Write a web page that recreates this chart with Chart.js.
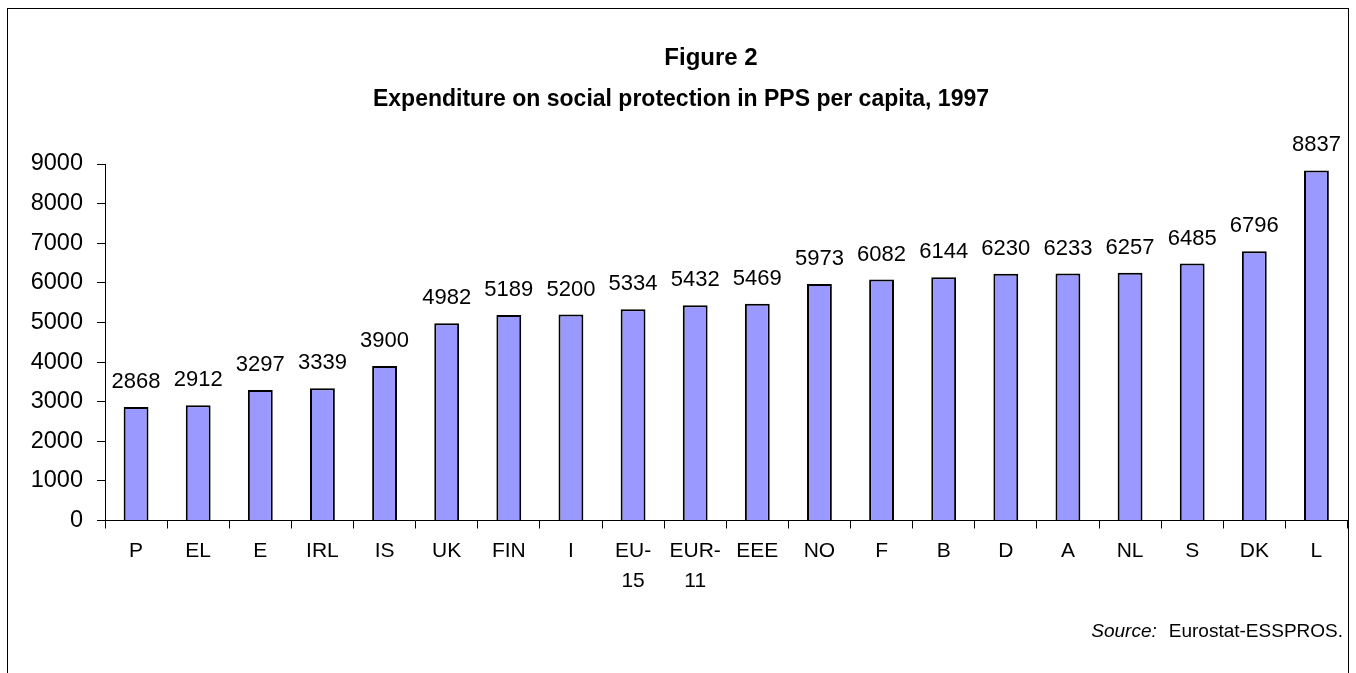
<!DOCTYPE html>
<html>
<head>
<meta charset="utf-8">
<script src="https://cdn.jsdelivr.net/npm/chart.js@4.4.1/dist/chart.umd.min.js"></script>
<style>
html,body{margin:0;padding:0;background:#fff;overflow:hidden}
#wrap{position:relative;width:1356px;height:673px}
canvas{display:block}
</style>
</head>
<body>
<div id="wrap"><canvas id="c" width="1356" height="673"></canvas></div>
<script>
const categories = ['P','EL','E','IRL','IS','UK','FIN','I','EU-15','EUR-11','EEE','NO','F','B','D','A','NL','S','DK','L'];
const expenditure = [2868,2912,3297,3339,3900,4982,5189,5200,5334,5432,5469,5973,6082,6144,6230,6233,6257,6485,6796,8837];
const yTickValues = [0,1000,2000,3000,4000,5000,6000,7000,8000,9000];
const titleLine1 = 'Figure 2';
const titleLine2 = 'Expenditure on social protection in PPS per capita, 1997';
const sourceLabel = 'Source:';
const sourceText = 'Eurostat-ESSPROS.';

const FONT = "'Liberation Sans', Arial, Helvetica, sans-serif";

// split labels like "EU-15" into ["EU-","15"]
function splitLabel(s) {
  const i = s.indexOf('-');
  return i >= 0 ? [s.slice(0, i + 1), s.slice(i + 1)] : s;
}

const titles = {
  id: 'titles',
  afterDraw(chart) {
    const ctx = chart.ctx;
    ctx.save();
    ctx.fillStyle = '#000';
    ctx.textAlign = 'center';
    ctx.textBaseline = 'alphabetic';
    ctx.font = 'bold 24px ' + FONT;
    ctx.fillText(titleLine1, 711, 65);
    ctx.font = 'bold 23px ' + FONT;
    ctx.fillText(titleLine2, 681, 106);
    ctx.restore();
  }
};

const valueLabels = {
  id: 'valueLabels',
  afterDatasetsDraw(chart) {
    const ctx = chart.ctx;
    const meta = chart.getDatasetMeta(0);
    ctx.save();
    ctx.font = '22px ' + FONT;
    ctx.fillStyle = '#000';
    ctx.textAlign = 'center';
    ctx.textBaseline = 'alphabetic';
    meta.data.forEach((bar, i) => {
      ctx.fillText(String(expenditure[i]), bar.x, bar.y - 19);
    });
    ctx.restore();
  }
};

const frameAndSource = {
  id: 'frameAndSource',
  afterDraw(chart) {
    const ctx = chart.ctx;
    ctx.save();
    ctx.strokeStyle = '#000';
    ctx.lineWidth = 1;
    ctx.strokeRect(7.5, 8.5, 1341, 1000);
    ctx.fillStyle = '#000';
    ctx.textBaseline = 'alphabetic';
    ctx.textAlign = 'right';
    ctx.font = '19px ' + FONT;
    const right = 1343, base = 637;
    ctx.fillText(sourceText, right, base);
    const w = ctx.measureText(sourceText).width;
    ctx.font = 'italic 19px ' + FONT;
    ctx.fillText(sourceLabel, right - w - 12, base);
    ctx.restore();
  }
};

new Chart(document.getElementById('c'), {
  type: 'bar',
  data: {
    labels: categories.map(splitLabel),
    datasets: [{
      data: expenditure,
      backgroundColor: '#9999FF',
      borderColor: '#000',
      borderWidth: 2,
      barPercentage: 0.4,
      categoryPercentage: 1.0
    }]
  },
  options: {
    responsive: false,
    devicePixelRatio: 1,
    animation: false,
    layout: { padding: { left: 0, right: 8.5, top: 164, bottom: 69.5 } },
    plugins: {
      legend: { display: false },
      tooltip: { enabled: false },
      title: { display: false },
      subtitle: { display: false }
    },
    scales: {
      x: {
        offset: true,
        grid: { display: true, offset: true, drawOnChartArea: false, drawTicks: true, tickLength: 8, color: '#000', lineWidth: 1 },
        border: { display: true, color: '#000', width: 1 },
        ticks: {
          color: '#000',
          font: { family: FONT, size: 21, lineHeight: 30 / 21 },
          padding: 7.5,
          maxRotation: 0,
          autoSkip: false
        }
      },
      y: {
        min: 0,
        max: 9000,
        afterBuildTicks(scale) { scale.ticks = yTickValues.map(v => ({ value: v })); },
        afterFit(scale) { scale.width = 105; },
        grid: { display: true, drawOnChartArea: false, drawTicks: true, tickLength: 8, color: '#000', lineWidth: 1 },
        border: { display: true, color: '#000', width: 1 },
        ticks: {
          color: '#000',
          font: { family: FONT, size: 23.5 },
          padding: 14,
          callback: (v) => String(v)
        }
      }
    }
  },
  plugins: [valueLabels, titles, frameAndSource]
});
</script>
</body>
</html>
